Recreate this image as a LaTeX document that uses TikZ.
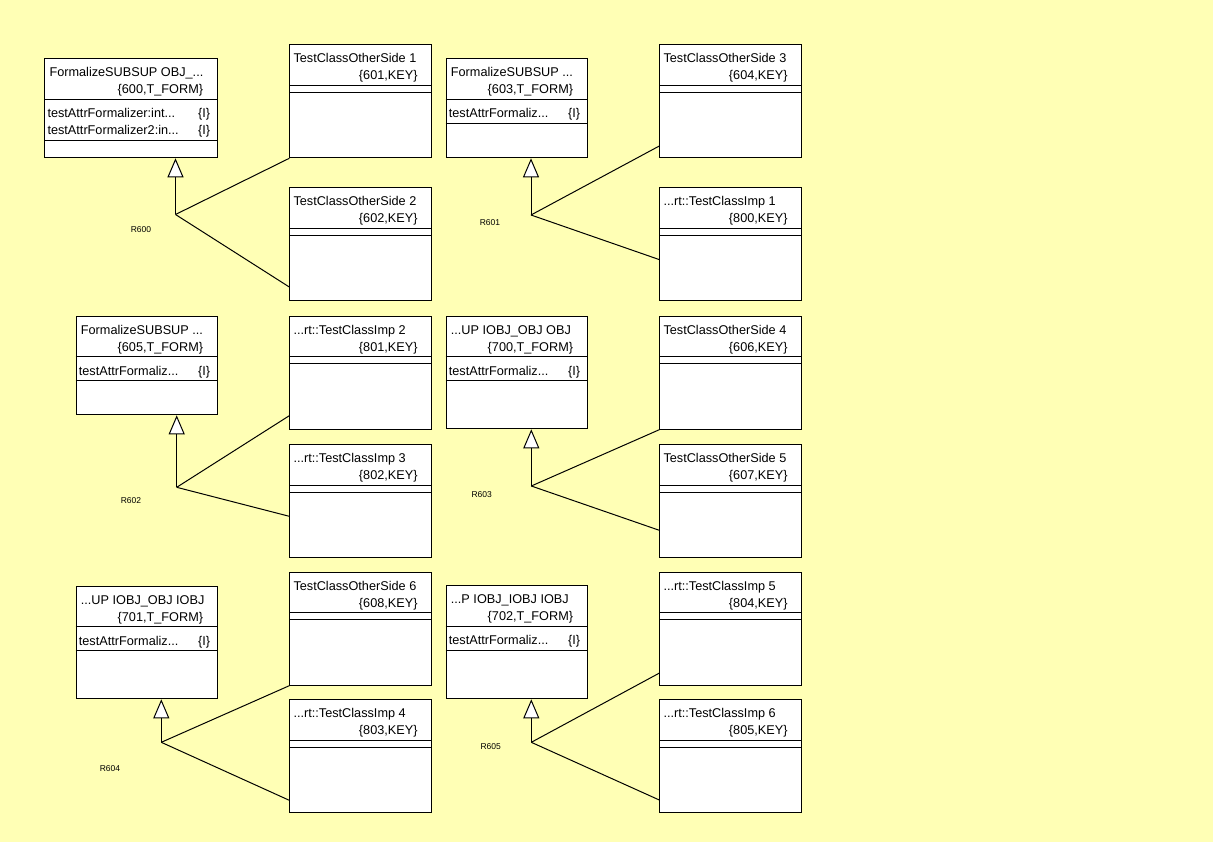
\documentclass[tikz,border=0pt]{standalone}
\usepackage{fontspec}
\setmainfont{Liberation Sans}
\usetikzlibrary{arrows.meta}
\definecolor{bgyellow}{RGB}{255,255,181}

\tikzset{
  cls/.style={draw, fill=white, anchor=north west, inner sep=0pt, line width=1pt},
  txt/.style={inner sep=0pt, font=\fontsize{12.7}{15}\selectfont},
  rel/.style={inner sep=0pt, font=\fontsize{8.5}{10}\selectfont},
  sep/.style={line width=1pt},
  assoc/.style={line width=1pt},
  gen/.style={line width=1pt, -{Triangle[fill=white, length=19pt, width=16pt]}},
}

% class with key letters only
\newcommand{\keybox}[4]{%
  \node[cls, minimum width=141.5pt, minimum height=113pt] (#1) at (#2) {};
  \node[txt, anchor=base west] (#1-name) at ([xshift=4pt, yshift=-18.5pt]#1.north west) {#3};
  \node[txt, anchor=base east] (#1-key) at ([xshift=-14pt, yshift=-35.5pt]#1.north east) {#4};
  \draw[sep] ([yshift=-41pt]#1.north west) -- ([yshift=-41pt]#1.north east);
  \draw[sep] ([yshift=-48pt]#1.north west) -- ([yshift=-48pt]#1.north east);
}

% class with one attribute
\newcommand{\formbox}[8]{%
  \node[cls, minimum width=#3pt, minimum height=#4pt] (#1) at (#2) {};
  \node[txt, anchor=base west] (#1-name) at ([xshift=5pt, yshift=-18.5pt]#1.north west) {#5};
  \node[txt, anchor=base east] (#1-key) at ([xshift=-15pt, yshift=-35.5pt]#1.north east) {#6};
  \node[txt, anchor=base west] (#1-attr) at ([xshift=3pt, yshift=-59.5pt]#1.north west) {#7};
  \node[txt, anchor=base east] (#1-type) at ([xshift=-8pt, yshift=-59.5pt]#1.north east) {\{I\}};
  \draw[sep] ([yshift=-41pt]#1.north west) -- ([yshift=-41pt]#1.north east);
  \draw[sep] ([yshift=-#8pt]#1.north west) -- ([yshift=-#8pt]#1.north east);
}

\begin{document}
\begin{tikzpicture}[x=1pt, y=-1pt]
  \useasboundingbox (0,0) rectangle (1231,861);
  \fill[bgyellow] (0,0) rectangle (1213,842);

  % supertypes
  \formbox{f600}{44.3,58.3}{173}{99}{FormalizeSUBSUP OBJ\_...}{\{600,T\_FORM\}}{testAttrFormalizer:int...}{82}
  \node[txt, anchor=base west] (f600-attr2) at ([xshift=3pt, yshift=-76.7pt]f600.north west) {testAttrFormalizer2:in...};
  \node[txt, anchor=base east] (f600-type2) at ([xshift=-8pt, yshift=-76.7pt]f600.north east) {\{I\}};
  \formbox{f603}{445.7,58.3}{141.6}{99}{FormalizeSUBSUP ...}{\{603,T\_FORM\}}{testAttrFormaliz...}{65}
  \formbox{f605}{75.7,315.7}{141.6}{98.6}{FormalizeSUBSUP ...}{\{605,T\_FORM\}}{testAttrFormaliz...}{64.3}
  \formbox{f700}{445.7,315.7}{141.6}{112.6}{...UP IOBJ\_OBJ OBJ}{\{700,T\_FORM\}}{testAttrFormaliz...}{64.3}
  \formbox{f701}{75.7,585.7}{141.6}{112.6}{...UP IOBJ\_OBJ IOBJ}{\{701,T\_FORM\}}{testAttrFormaliz...}{64.3}
  \formbox{f702}{445.7,585}{141.6}{113.3}{...P IOBJ\_IOBJ IOBJ}{\{702,T\_FORM\}}{testAttrFormaliz...}{65}

  % subtypes
  \keybox{k601}{289.3,44.3}{TestClassOtherSide 1}{\{601,KEY\}}
  \keybox{k602}{289.3,187.3}{TestClassOtherSide 2}{\{602,KEY\}}
  \keybox{k604}{659.3,44.3}{TestClassOtherSide 3}{\{604,KEY\}}
  \keybox{k800}{659.3,187.3}{...rt::TestClassImp 1}{\{800,KEY\}}
  \keybox{k801}{289.3,315.7}{...rt::TestClassImp 2}{\{801,KEY\}}
  \keybox{k802}{289.3,444}{...rt::TestClassImp 3}{\{802,KEY\}}
  \keybox{k606}{659.3,315.7}{TestClassOtherSide 4}{\{606,KEY\}}
  \keybox{k607}{659.3,444}{TestClassOtherSide 5}{\{607,KEY\}}
  \keybox{k608}{289.3,571.7}{TestClassOtherSide 6}{\{608,KEY\}}
  \keybox{k803}{289.3,699.3}{...rt::TestClassImp 4}{\{803,KEY\}}
  \keybox{k804}{659.3,571.7}{...rt::TestClassImp 5}{\{804,KEY\}}
  \keybox{k805}{659.3,699.3}{...rt::TestClassImp 6}{\{805,KEY\}}

  % junctions
  \coordinate (j600) at (175.5,214.5);
  \coordinate (j601) at (531,215);
  \coordinate (j602) at (176.7,487.3);
  \coordinate (j603) at (531.3,486);
  \coordinate (j604) at (161.3,742.3);
  \coordinate (j605) at (531.3,742.3);

  % generalizations
  \draw[gen] (j600) -- (j600 |- f600.south);
  \draw[assoc] (j600) -- (k601.south west);
  \draw[assoc] (j600) -- ([yshift=14.3pt]k602.south west);
  \node[rel] (r600) at (141,230) {R600};

  \draw[gen] (j601) -- (j601 |- f603.south);
  \draw[assoc] (j601) -- ([yshift=12.3pt]k604.south west);
  \draw[assoc] (j601) -- ([yshift=41.7pt]k800.south west);
  \node[rel] (r601) at (490,222.7) {R601};

  \draw[gen] (j602) -- (j602 |- f605.south);
  \draw[assoc] (j602) -- ([yshift=14pt]k801.south west);
  \draw[assoc] (j602) -- ([yshift=41.7pt]k802.south west);
  \node[rel] (r602) at (131,501) {R602};

  \draw[gen] (j603) -- (j603 |- f700.south);
  \draw[assoc] (j603) -- (k606.south west);
  \draw[assoc] (j603) -- ([yshift=27.7pt]k607.south west);
  \node[rel] (r603) at (481.7,494.3) {R603};

  \draw[gen] (j604) -- (j604 |- f701.south);
  \draw[assoc] (j604) -- (k608.south west);
  \draw[assoc] (j604) -- ([yshift=13pt]k803.south west);
  \node[rel] (r604) at (110,768.3) {R604};

  \draw[gen] (j605) -- (j605 |- f702.south);
  \draw[assoc] (j605) -- ([yshift=12.6pt]k804.south west);
  \draw[assoc] (j605) -- ([yshift=13.3pt]k805.south west);
  \node[rel] (r605) at (490.7,746.7) {R605};
\end{tikzpicture}
\end{document}
